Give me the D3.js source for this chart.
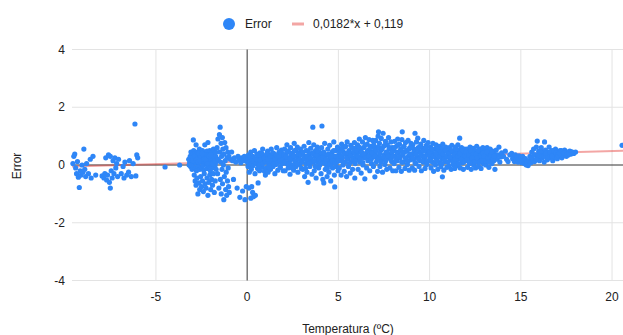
<!DOCTYPE html>
<html>
<head>
<meta charset="utf-8">
<script src="https://cdn.jsdelivr.net/npm/d3@7"></script>
<style>
  body { margin: 0; background: #fff; }
  svg { display: block; font-family: Arial, "Liberation Sans", sans-serif; }
</style>
</head>
<body>
<svg width="623" height="335"></svg>
<script>
// [temperatura, error] pairs, grouped by range
const frioIntenso = [
  [-9.55,0.05],[-9.5,0.3],[-9.45,0.38],[-9.4,-0.1],[-9.35,-0.3],[-9.3,0.12],[-9.25,-0.42],[-9.2,-0.78],[-9.15,-0.2],
  [-9.1,-0.35],[-9.05,0.0],[-9.0,-0.25],[-8.95,0.55],[-8.9,-0.15],[-8.85,-0.4],[-8.8,0.05],[-8.7,-0.3],[-8.6,0.2],
  [-8.55,-0.45],[-8.45,0.3],[-8.3,-0.35],
  [-7.95,-0.38],[-7.85,-0.45],[-7.8,-0.3],[-7.75,0.25],[-7.7,-0.52],[-7.65,-0.35],[-7.6,0.35],[-7.55,-0.6],[-7.5,-0.8],
  [-7.5,0.3],[-7.45,-0.2],[-7.4,-0.45],[-7.35,0.15],[-7.3,-0.3],[-7.25,0.25],[-7.2,-0.1],[-7.15,0.05],[-7.1,-0.4],[-7.05,0.2],
  [-6.9,-0.3],[-6.8,-0.05],[-6.75,-0.45],[-6.7,0.1],[-6.6,-0.35],[-6.5,-0.25],[-6.45,0.15],[-6.35,-0.4],[-6.25,0.05],
  [-6.15,1.42],[-6.1,-0.38],[-6.05,0.35],[-6.0,0.25],
  [-4.5,-0.07],[-3.7,0.0]
];

const deshielo = [
  [-3.15,0.1],[-3.12,0.3],[-3.1,-0.05],[-3.08,0.45],[-3.05,0.2],[-3.02,-0.15],[-3.0,0.35],[-2.97,0.05],[-2.95,0.87],
  [-2.93,0.5],[-2.9,0.15],[-2.88,-0.1],[-2.85,0.4],[-2.82,0.25],[-2.8,0.7],[-2.78,-0.2],[-2.75,0.05],[-2.72,0.45],
  [-2.7,0.3],[-2.68,-0.05],[-2.65,0.18],[-2.62,0.55],[-2.6,-0.15],[-2.58,0.35],[-2.55,0.1],[-2.52,0.42],[-2.5,-0.08],
  [-2.48,0.25],[-2.45,0.5],[-2.42,0.0],[-2.4,0.3],[-2.38,-0.18],[-2.35,0.15],[-2.32,0.7],[-2.3,0.4],[-2.28,0.05],
  [-2.25,0.28],[-2.22,-0.12],[-2.2,0.48],[-2.18,0.2],[-2.15,0.78],[-2.12,-0.05],[-2.1,0.35],[-2.08,0.12],[-2.05,0.5],
  [-2.02,-0.2],[-2.0,0.25],[-1.98,0.08],[-1.95,0.42],[-1.92,-0.1],[-1.9,0.3],[-1.88,0.15],[-1.85,0.55],[-1.82,-0.05],
  [-1.8,0.22],[-1.78,0.4],[-1.75,0.0],[-1.72,0.3],[-1.7,-0.15],[-1.68,0.12],
  [-3.05,0.0],[-2.95,0.25],[-2.85,0.1],[-2.75,0.3],[-2.65,0.4],[-2.55,0.25],[-2.45,0.15],[-2.35,0.35],[-2.25,0.1],
  [-2.15,0.3],[-2.05,0.2],[-1.95,0.25],[-1.85,0.35],[-3.2,0.2],[-3.18,0.0],
  [-3.1,0.25],[-2.98,0.15],[-2.88,0.3],[-2.78,0.2],[-2.68,0.1],[-2.58,0.15],[-2.48,0.4],[-2.38,0.2],[-2.28,0.2],
  [-2.18,0.05],[-2.08,0.3],[-1.98,0.35],[-1.88,0.05],[-1.78,0.15],[-1.72,0.45],
  [-2.9,-0.35],[-2.85,-0.55],[-2.8,-0.7],[-2.75,-0.45],[-2.7,-1.0],[-2.65,-0.62],[-2.6,-0.85],[-2.55,-0.4],[-2.5,-0.75],
  [-2.45,-0.55],[-2.4,-0.92],[-2.35,-0.3],[-2.3,-0.65],[-2.25,-0.8],[-2.2,-0.45],[-2.15,-1.05],[-2.1,-0.6],[-2.05,-0.35],
  [-2.0,-0.85],[-1.95,-0.5],[-1.9,-0.7],[-1.85,-0.3],[-1.8,-0.95],[-1.75,-0.55],
  [-1.65,0.6],[-1.62,-0.3],[-1.6,0.9],[-1.58,0.2],[-1.55,-0.8],[-1.52,1.05],[-1.5,0.45],[-1.48,1.31],[-1.47,-0.5],
  [-1.45,0.1],[-1.43,0.75],[-1.42,-1.0],[-1.4,0.3],[-1.38,-0.15],[-1.36,0.95],[-1.35,-0.65],[-1.33,0.55],[-1.3,0.0],
  [-1.28,-1.2],[-1.27,0.38],[-1.25,-0.4],[-1.23,0.78],[-1.2,0.15],[-1.18,-0.85],[-1.16,0.6],[-1.15,-0.25],[-1.12,-1.05],
  [-1.1,0.25],[-1.08,-0.55],[-1.06,0.45],[-1.04,-0.1],[-1.02,-0.75],[-1.0,0.3],[-0.98,-0.95],
  [-0.92,0.2],[-0.85,0.45],[-0.8,0.15],[-0.75,-0.5],[-0.7,0.25],[-0.62,0.1],[-0.55,-0.8],[-0.5,0.3],[-0.45,0.18],
  [-0.4,-1.12],[-0.35,0.08],[-0.3,0.25],[-0.25,-0.9],[-0.2,0.15],[-0.15,0.3],[-0.12,-1.2],[-0.08,0.2],[-0.05,-0.75],[-0.02,0.12]
];

const templado = [
  [0.03,0.22],[0.05,-0.05],[0.08,0.35],[0.1,0.1],[0.12,-0.25],[0.15,0.28],[0.18,0.02],[0.2,0.45],[0.23,-0.15],[0.26,0.18],
  [0.3,0.3],[0.33,-0.02],[0.36,0.12],[0.4,0.5],[0.43,-0.3],[0.46,0.22],[0.5,0.05],[0.53,0.38],[0.57,-0.12],[0.6,0.15],
  [0.64,0.28],[0.68,-0.2],[0.7,0.42],[0.74,0.08],[0.78,0.25],[0.82,-0.08],[0.85,0.55],[0.88,0.18],[0.92,0.32],[0.95,-0.22],[0.98,0.1],
  [0.1,-0.8],[0.2,-1.15],[0.3,-0.95],[0.35,-1.1],[0.45,-1.05],[0.25,-0.75],[0.6,-0.62],[1.0,-0.35],
  [1.02,0.3],[1.05,-0.1],[1.09,0.15],[1.12,0.48],[1.15,-0.25],[1.18,0.05],[1.22,0.35],[1.25,0.2],[1.28,-0.15],[1.32,0.55],
  [1.35,0.1],[1.38,0.28],[1.42,-0.05],[1.45,0.4],[1.48,0.18],[1.52,-0.3],[1.55,0.32],[1.58,0.02],[1.62,0.6],[1.65,0.22],
  [1.68,-0.18],[1.72,0.12],[1.75,0.45],[1.78,0.3],[1.82,-0.08],[1.85,0.18],[1.88,0.52],[1.92,0.05],[1.95,0.38],[1.98,-0.2],
  [2.02,0.15],[2.05,0.55],[2.08,-0.2],[2.12,0.35],[2.15,0.05],[2.18,0.7],[2.22,0.25],[2.25,-0.1],[2.28,0.45],[2.32,0.12],
  [2.35,-0.32],[2.38,0.6],[2.42,0.3],[2.45,0.0],[2.48,0.4],[2.52,0.2],[2.55,-0.18],[2.58,0.75],[2.62,0.1],[2.65,0.5],
  [2.68,-0.05],[2.72,0.32],[2.75,0.62],[2.78,-0.25],[2.82,0.22],[2.85,0.42],[2.88,0.02],[2.92,0.55],[2.95,0.15],[2.98,-0.12],
  [3.02,0.4],[3.05,-0.15],[3.08,0.2],[3.12,0.65],[3.15,-0.4],[3.18,0.3],[3.22,0.05],[3.25,0.5],[3.28,-0.25],[3.32,0.15],
  [3.34,-0.6],[3.38,0.78],[3.4,0.35],[3.44,-0.05],[3.48,0.58],[3.5,0.22],[3.55,-0.32],[3.58,0.42],[3.6,1.31],[3.62,0.1],
  [3.65,0.7],[3.68,-0.2],[3.72,0.3],[3.75,0.5],[3.78,-0.45],[3.82,0.12],[3.85,0.62],[3.88,0.25],[3.92,-0.1],[3.95,0.45],[3.98,0.0],
  [4.02,0.3],[4.05,-0.3],[4.08,0.6],[4.1,1.35],[4.12,0.1],[4.15,-0.5],[4.18,0.4],[4.2,-0.62],[4.22,0.2],[4.25,0.75],
  [4.28,-0.15],[4.32,0.35],[4.35,0.0],[4.38,-0.4],[4.42,0.55],[4.45,0.15],[4.48,-0.25],[4.52,0.68],[4.55,0.25],[4.58,-0.55],
  [4.62,0.05],[4.65,0.45],[4.68,-0.1],[4.72,0.32],[4.75,0.8],[4.78,-0.35],[4.8,-0.76],[4.82,0.18],[4.85,0.5],[4.88,-0.05],
  [4.92,0.28],[4.95,0.62],[4.98,-0.2]
];

const calido = [
  [5.02,0.35],[5.05,-0.1],[5.08,0.55],[5.12,0.15],[5.15,-0.35],[5.18,0.72],[5.22,0.25],[5.25,0.0],[5.28,0.45],[5.32,-0.22],
  [5.35,0.62],[5.38,0.1],[5.42,0.38],[5.45,-0.4],[5.48,0.8],[5.52,0.2],[5.55,-0.05],[5.58,0.5],[5.62,0.3],[5.65,-0.28],
  [5.68,0.68],[5.72,0.12],[5.75,0.42],[5.78,-0.15],[5.82,0.58],[5.85,0.25],[5.88,0.78],[5.9,-0.45],[5.92,0.05],[5.95,0.35],[5.98,0.6],
  [6.02,0.2],[6.05,0.7],[6.08,-0.15],[6.12,0.45],[6.15,0.9],[6.18,0.1],[6.22,0.55],[6.25,-0.28],[6.28,0.32],[6.32,0.8],
  [6.35,0.0],[6.38,0.6],[6.42,0.25],[6.45,-0.48],[6.48,0.95],[6.52,0.4],[6.55,-0.1],[6.58,0.72],[6.62,0.15],[6.65,0.5],
  [6.68,0.88],[6.72,-0.2],[6.75,0.35],[6.78,0.65],[6.82,0.05],[6.85,0.45],[6.88,0.85],[6.92,-0.05],[6.95,0.28],[6.98,0.58],
  [7.0,-0.41],[7.02,0.4],[7.05,0.85],[7.08,0.1],[7.12,0.6],[7.15,-0.22],[7.18,1.0],[7.2,1.15],[7.22,0.3],[7.25,0.75],
  [7.28,-0.05],[7.32,0.5],[7.35,0.92],[7.38,0.18],[7.42,-0.25],[7.45,1.1],[7.48,0.65],[7.52,0.35],[7.55,0.02],[7.58,0.82],
  [7.62,0.45],[7.65,-0.15],[7.68,0.7],[7.72,0.25],[7.75,0.95],[7.78,0.55],[7.82,-0.1],[7.85,0.38],[7.88,0.8],[7.92,0.12],[7.95,0.6],[7.98,-0.2],
  [8.02,0.5],[8.05,0.05],[8.08,0.82],[8.12,0.3],[8.15,-0.2],[8.18,0.65],[8.22,0.15],[8.25,0.9],[8.28,0.42],[8.32,-0.08],
  [8.35,0.72],[8.38,0.25],[8.42,0.55],[8.45,-0.22],[8.48,0.88],[8.5,1.15],[8.52,0.35],[8.55,0.1],[8.58,0.62],[8.62,0.45],
  [8.65,-0.12],[8.68,0.78],[8.72,0.2],[8.75,0.5],[8.78,0.02],[8.82,0.85],[8.85,0.32],[8.88,-0.18],[8.92,0.6],[8.95,0.18],[8.98,0.75],
  [9.02,0.35],[9.05,-0.1],[9.08,0.7],[9.12,0.2],[9.15,0.55],[9.18,-0.18],[9.2,1.1],[9.22,0.4],[9.25,0.05],[9.28,0.8],
  [9.32,0.28],[9.35,0.93],[9.38,0.6],[9.42,-0.05],[9.45,0.45],[9.48,0.15],[9.52,0.72],[9.55,-0.2],[9.58,0.32],[9.62,0.58],
  [9.65,0.1],[9.68,0.85],[9.72,0.25],[9.75,-0.12],[9.78,0.5],[9.82,0.68],[9.85,0.02],[9.88,0.38],[9.92,0.78],[9.95,0.15],[9.98,0.5]
];

const caluroso = [
  [10.02,0.25],[10.05,0.62],[10.08,-0.1],[10.12,0.42],[10.15,0.1],[10.18,0.75],[10.22,-0.22],[10.25,0.3],[10.28,0.55],[10.32,0.0],
  [10.35,0.7],[10.38,0.2],[10.42,0.48],[10.45,-0.15],[10.48,0.35],[10.52,0.65],[10.55,0.08],[10.58,0.4],[10.62,-0.05],[10.65,0.58],
  [10.68,0.22],[10.7,-0.41],[10.72,0.72],[10.75,0.3],[10.78,-0.18],[10.82,0.5],[10.85,0.12],[10.88,0.62],[10.92,0.28],[10.95,-0.08],[10.98,0.45],
  [11.02,0.35],[11.05,-0.05],[11.08,0.6],[11.12,0.18],[11.15,0.45],[11.18,-0.15],[11.22,0.68],[11.25,0.25],[11.28,0.02],[11.32,0.5],
  [11.35,0.3],[11.38,-0.12],[11.42,0.62],[11.45,0.12],[11.48,0.4],[11.52,-0.02],[11.55,0.7],[11.58,0.22],[11.62,0.52],[11.65,0.93],
  [11.68,-0.1],[11.72,0.35],[11.75,0.6],[11.78,0.08],[11.82,0.45],[11.85,-0.15],[11.88,0.28],[11.92,0.55],[11.95,0.15],[11.98,0.38],
  [12.02,0.3],[12.05,0.55],[12.08,-0.08],[12.12,0.2],[12.15,0.45],[12.18,0.05],[12.22,0.62],[12.25,0.28],[12.28,-0.15],[12.32,0.4],
  [12.35,0.15],[12.38,0.58],[12.42,0.0],[12.45,0.35],[12.48,0.5],[12.52,-0.1],[12.55,0.22],[12.58,0.65],[12.62,0.1],[12.65,0.4],
  [12.68,-0.05],[12.72,0.3],[12.75,0.55],[12.78,0.18],[12.82,-0.12],[12.85,0.45],[12.88,0.25],[12.92,0.6],[12.95,0.05],[12.98,0.35],
  [13.02,0.2],[13.05,0.5],[13.08,0.0],[13.12,0.35],[13.15,0.6],[13.18,0.12],[13.22,0.42],[13.25,-0.08],[13.28,0.28],[13.32,0.55],
  [13.35,0.18],[13.38,0.38],[13.42,0.05],[13.45,0.48],[13.48,0.25],[13.52,0.15],[13.55,0.4],[13.58,-0.15],[13.62,0.3],[13.65,0.52],
  [13.7,0.2],[13.75,0.35],[13.8,0.62],[13.85,0.1],[13.9,0.28],[13.95,0.42],
  [14.05,0.3],[14.15,0.48],[14.22,0.2],[14.3,0.12],[14.4,0.35],[14.5,0.4],[14.55,0.22],[14.6,0.3],[14.65,0.12],[14.7,0.35],
  [14.75,0.2],[14.8,0.28],[14.85,0.1],[14.9,0.32],[14.95,0.18],[15.0,0.25],[15.05,0.08],[15.1,0.3],[15.15,0.15],[15.2,0.05],
  [15.25,0.22],[15.3,0.0],[15.35,0.12],[15.4,-0.02],[15.45,0.15],
  [15.5,0.3],[15.55,0.08],[15.6,0.45],[15.65,0.18],[15.7,0.55],[15.75,0.12],[15.8,0.35],[15.85,0.62],[15.9,0.83],[15.92,0.22],
  [15.98,0.48],[16.02,0.15],[16.08,0.38],[16.12,0.6],[16.18,0.25],[16.22,0.45],[16.28,0.1],[16.3,0.8],[16.35,0.52],[16.4,0.3],
  [16.45,0.18],[16.5,0.42],[16.55,0.62],[16.6,0.25],[16.65,0.35],[16.7,0.5],[16.75,0.15],[16.8,0.4],[16.85,0.28],[16.9,0.55],
  [16.95,0.35],[17.0,0.22],[17.05,0.45],[17.1,0.3],[17.15,0.5],[17.2,0.38],[17.25,0.25],[17.3,0.45],[17.35,0.32],[17.4,0.52],
  [17.45,0.4],[17.5,0.3],[17.55,0.45],[17.6,0.35],[17.68,0.48],[17.75,0.38],[17.82,0.45],[17.9,0.4],[18.0,0.45],
  [15.6,0.25],[15.72,0.35],[15.85,0.2],[15.95,0.35],[16.05,0.45],[16.15,0.3],[16.25,0.3],[16.38,0.4],[16.48,0.25],[16.58,0.45],
  [16.7,0.3],[16.82,0.5],[16.92,0.42],[17.02,0.35],[17.12,0.4],[17.22,0.5],[17.38,0.42],[17.52,0.38],[17.65,0.4],[17.78,0.45],
  [20.55,0.68]
];

// dense middle of the band
const nucleo = [
  [0.52,0.2],[0.6,0.35],[0.66,0.0],[0.72,0.18],[0.8,0.4],[0.86,0.05],[0.94,0.25],[1.0,0.12],[1.07,0.38],[1.14,0.2],
  [1.2,-0.05],[1.27,0.3],[1.34,0.15],[1.4,0.42],[1.47,0.05],[1.54,0.22],[1.6,0.35],[1.67,0.08],[1.74,0.28],[1.8,0.15],[1.87,0.4],[1.94,0.2],
  [2.0,0.35],[2.07,0.1],[2.14,0.28],[2.2,0.48],[2.27,0.05],[2.34,0.22],[2.4,0.4],[2.47,-0.1],[2.54,0.3],[2.6,0.5],
  [2.67,0.15],[2.74,0.05],[2.8,0.38],[2.87,0.2],[2.94,0.35],[3.0,0.1],[3.07,0.45],[3.14,0.22],[3.2,-0.12],[3.27,0.3],
  [3.34,0.48],[3.4,0.05],[3.47,0.25],[3.54,0.1],[3.6,0.4],[3.67,0.15],[3.74,-0.05],[3.8,0.35],[3.87,0.48],[3.94,0.2],
  [4.0,0.05],[4.07,0.4],[4.14,0.25],[4.2,0.45],[4.27,0.05],[4.34,0.2],[4.4,-0.1],[4.47,0.38],[4.54,0.02],[4.6,0.28],
  [4.67,0.15],[4.74,0.5],[4.8,0.08],[4.87,0.3],[4.94,0.12],
  [5.0,0.18],[5.07,0.45],[5.14,0.3],[5.2,0.58],[5.27,0.1],[5.34,0.38],[5.4,0.65],[5.47,0.25],[5.54,0.42],[5.6,0.05],
  [5.67,0.32],[5.74,0.6],[5.8,0.2],[5.87,0.45],[5.94,0.15],[6.0,0.5],[6.07,0.3],[6.14,0.62],[6.2,0.2],[6.27,0.45],
  [6.34,0.08],[6.4,0.38],[6.47,0.68],[6.54,0.25],[6.6,0.5],[6.67,0.3],[6.74,0.6],[6.8,0.2],[6.87,0.4],[6.94,0.7],
  [7.0,0.3],[7.07,0.5],[7.14,0.2],[7.2,0.62],[7.27,0.4],[7.34,0.1],[7.4,0.55],[7.47,0.28],[7.54,0.68],[7.6,0.15],
  [7.67,0.42],[7.74,0.3],[7.8,0.6],[7.87,0.2],[7.94,0.45],[8.0,0.3],[8.07,0.6],[8.14,0.15],[8.2,0.45],[8.27,0.7],
  [8.34,0.28],[8.4,0.5],[8.47,0.1],[8.54,0.4],[8.6,0.65],[8.67,0.25],[8.74,0.48],[8.8,0.12],[8.87,0.55],[8.94,0.38],
  [9.0,0.6],[9.07,0.25],[9.14,0.45],[9.2,0.08],[9.27,0.38],[9.34,0.55],[9.4,0.2],[9.47,0.62],[9.54,0.35],[9.6,0.15],
  [9.67,0.48],[9.74,0.3],[9.8,0.6],[9.87,0.12],[9.94,0.35],
  [10.0,0.45],[10.07,0.2],[10.14,0.55],[10.2,0.3],[10.27,0.05],[10.34,0.4],[10.4,0.15],[10.47,0.55],[10.54,0.28],[10.6,0.45],
  [10.67,0.05],[10.74,0.38],[10.8,0.2],[10.87,0.5],[10.94,0.3],[11.0,0.1],[11.07,0.42],[11.14,0.28],[11.2,0.5],[11.27,0.12],
  [11.34,0.35],[11.4,0.2],[11.47,0.55],[11.54,0.3],[11.6,0.05],[11.67,0.4],[11.74,0.2],[11.8,0.5],[11.87,0.1],[11.94,0.32],
  [12.0,0.45],[12.07,0.2],[12.14,0.35],[12.2,0.08],[12.27,0.48],[12.34,0.25],[12.4,0.4],[12.47,0.12],[12.54,0.38],[12.6,0.25],
  [12.67,0.5],[12.74,0.1],[12.8,0.32],[12.87,0.15],[12.94,0.42],[13.0,0.3],[13.07,0.15],[13.14,0.45],[13.2,0.25],[13.27,0.1],
  [13.34,0.32],[13.4,0.45],[13.47,0.2],[13.54,0.3]
];

// trend line y = 0.0182*x + 0.119
const pendiente = 0.0182, intercepto = 0.119;
const xTicks = [-5, 0, 5, 10, 15, 20];
const yTicks = [-4, -2, 0, 2, 4];

const svg = d3.select("svg");
const x = d3.scaleLinear().domain([-9.6, 20.6]).range([72, 623]);
const y = d3.scaleLinear().domain([-4, 4]).range([280.5, 49.5]);

// grid
svg.append("g").selectAll("line")
  .data(xTicks.filter(d => d !== 0))
  .enter().append("line")
  .attr("x1", d => x(d)).attr("x2", d => x(d))
  .attr("y1", y(4)).attr("y2", y(-4))
  .attr("stroke", "#e3e3e3");
svg.append("g").selectAll("line")
  .data(yTicks.filter(d => d !== 0))
  .enter().append("line")
  .attr("x1", x.range()[0]).attr("x2", x.range()[1])
  .attr("y1", d => y(d)).attr("y2", d => y(d))
  .attr("stroke", "#e3e3e3");

// zero lines
svg.append("line")
  .attr("x1", x(0)).attr("x2", x(0))
  .attr("y1", y(4)).attr("y2", y(-4))
  .attr("stroke", "#333");
svg.append("line")
  .attr("x1", x.range()[0]).attr("x2", x.range()[1])
  .attr("y1", y(0)).attr("y2", y(0))
  .attr("stroke", "#333");

// trend line
const tx = x.domain();
svg.append("line")
  .attr("x1", x(tx[0])).attr("x2", x(tx[1]))
  .attr("y1", y(pendiente * tx[0] + intercepto))
  .attr("y2", y(pendiente * tx[1] + intercepto))
  .attr("stroke", "#e53935").attr("stroke-opacity", 0.45)
  .attr("stroke-width", 2);

// points
const puntos = [].concat(frioIntenso, deshielo, templado, calido, caluroso, nucleo);
svg.append("g").selectAll("circle")
  .data(puntos)
  .enter().append("circle")
  .attr("cx", d => x(d[0]))
  .attr("cy", d => y(d[1]))
  .attr("r", 2.6)
  .attr("fill", "#2e86f7");

// tick labels
svg.append("g").selectAll("text")
  .data(xTicks)
  .enter().append("text")
  .attr("x", d => x(d)).attr("y", 301)
  .attr("text-anchor", "middle")
  .attr("font-size", 12).attr("fill", "#222")
  .text(d => d);
svg.append("g").selectAll("text")
  .data(yTicks)
  .enter().append("text")
  .attr("x", 65).attr("y", d => y(d) + 4)
  .attr("text-anchor", "end")
  .attr("font-size", 12).attr("fill", "#222")
  .text(d => d);

// axis titles
svg.append("text")
  .attr("x", 348).attr("y", 333)
  .attr("text-anchor", "middle")
  .attr("font-size", 12).attr("fill", "#222")
  .text("Temperatura (ºC)");
svg.append("text")
  .attr("transform", "translate(21,166) rotate(-90)")
  .attr("text-anchor", "middle")
  .attr("font-size", 12).attr("fill", "#222")
  .text("Error");

// legend
const leg = svg.append("g");
leg.append("circle").attr("cx", 229).attr("cy", 24).attr("r", 6).attr("fill", "#2e86f7");
leg.append("text").attr("x", 245).attr("y", 28).attr("font-size", 12).attr("fill", "#222").text("Error");
leg.append("line").attr("x1", 292).attr("x2", 304).attr("y1", 24).attr("y2", 24)
  .attr("stroke", "#e53935").attr("stroke-opacity", 0.45).attr("stroke-width", 3);
leg.append("text").attr("x", 313).attr("y", 28).attr("font-size", 12).attr("fill", "#222").text("0,0182*x + 0,119");
</script>
</body>
</html>
